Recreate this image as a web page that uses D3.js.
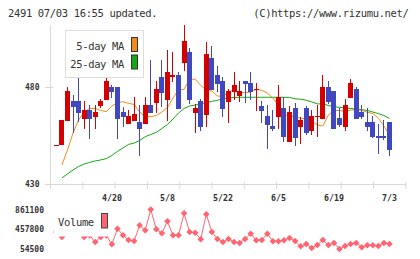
<!DOCTYPE html>
<html>
<head>
<meta charset="utf-8">
<script src="https://cdn.jsdelivr.net/npm/d3@7"></script>
<style>
  html, body { margin: 0; padding: 0; background: #fff; }
  svg { display: block; }
  text { font-family: "DejaVu Sans Mono", monospace; fill: #333; }
</style>
</head>
<body>
<div id="root"></div>
<script>
"use strict";

// daily candles, oldest first
const opens = [450, 450, 462.6, 472.9, 472.9, 463.7, 468.1, 464.7, 470.2, 473.5,
  480, 480, 467.1, 460.8, 462.6, 462, 460.8, 470.7, 471.6, 485.3,
  473.3, 485, 486.2, 492.5, 498, 466.8, 472.8, 465.7, 495, 486.2,
  483.1, 472.4, 477.6, 475.5, 483.1, 482, 478.5, 470.2, 465, 459.9,
  464.7, 469.2, 451.8, 469.2, 459.5, 469.2, 457.5, 464.8, 463.7, 480,
  477.9, 464, 459.5, 474.5, 479, 467.1, 462, 462, 454.9, 454.9, 462];
const highs = [450, 463.1, 480.2, 476, 485.3, 472.9, 470.7, 470.7, 474, 485.3,
  481, 480, 469.5, 468.1, 475, 470.7, 475, 493.9, 483.1, 493.9,
  499.1, 498, 487.9, 512, 500.1, 471.2, 473.8, 503.2, 501.1, 490.8,
  485.2, 479, 487.9, 483.1, 483.1, 487.7, 482, 472.8, 470.7, 468.1,
  481, 474.8, 470.2, 471.8, 464.7, 470.2, 468.1, 470.7, 486.2, 483.1,
  478, 469.2, 473.8, 484.1, 480, 470.7, 469.2, 465, 460.9, 463, 462];
const lows = [450, 450, 462.6, 456.1, 462.1, 458.5, 453, 458.5, 469, 473.5,
  474.5, 453, 459.5, 460.8, 462.6, 444.6, 460.8, 466.8, 466.8, 469.8,
  462.6, 482.7, 468.8, 488.4, 471.2, 456.4, 457.5, 459.5, 478.5, 477.6,
  464.7, 461.6, 473.3, 472.4, 471.6, 473.3, 467.8, 461.6, 447.9, 457.5,
  458.5, 451.8, 451.8, 449.7, 450.8, 455.4, 455.4, 454.4, 463.7, 471,
  458.5, 459.5, 457.5, 474.5, 463.7, 463.7, 457.5, 453.6, 445.6, 452.8, 444.6];
const closes = [450, 463.1, 478.1, 469.8, 466.8, 468.1, 463.7, 467.1, 472.9, 483.1,
  477.6, 463.7, 464.7, 465.1, 466.1, 458.5, 470.7, 466.8, 479, 476.8,
  487.9, 486.2, 468.8, 503.7, 473.3, 469.2, 459.5, 497, 478.5, 481.5,
  468.8, 477.9, 481, 477.9, 481.5, 477.6, 479, 467.8, 460.6, 458.5,
  474.8, 454.4, 467.1, 453.9, 463, 456.4, 465.1, 465, 480, 472.3,
  458.5, 460.6, 470.7, 482.1, 463.7, 464.7, 459.5, 454.4, 453.9, 453.9, 447.7];

const ma5 = [null, 439.8, 447.5, 456.3, 463, 467.1, 469, 468.9, 467.9, 467.3,
  470.2, 471.9, 472.4, 471.6, 471, 467.1, 464.7, 464.7, 465.3, 467.1,
  469.4, 474.3, 478.5, 478.8, 484, 484, 480.8, 478.5, 477.9, 475.4,
  475.1, 477.4, 478.5, 477.1, 477.1, 477.4, 478.8, 478.3, 476.9, 474.3,
  470.5, 465.8, 465.1, 464.5, 464, 463.5, 462.5, 460.4, 459.9, 465.6,
  467.8, 467.9, 467.6, 468.1, 468.3, 467.9, 467, 466.3, 463.9, 459.9, 455.3];
const ma25 = [null, 433.1, 435.2, 437.2, 439, 440.3, 441.1, 441.9, 442.4, 443.1,
  444.7, 446.8, 448.6, 450.4, 451.1, 452.4, 454.4, 455.5, 456.6, 458.6,
  460.7, 463.5, 466.6, 468.9, 470.2, 470.7, 471.2, 472, 472.6, 473.1,
  474.1, 474.3, 474.6, 474.7, 474.7, 474.7, 474.7, 474.7, 474.7, 474.7,
  474.7, 474.7, 474.6, 473.9, 473.7, 473.2, 472.3, 471.3, 471.2, 470.5,
  469.8, 469.5, 469.2, 468.9, 468.7, 468.3, 467.9, 467.1, 466.3, 465.3, 463.8];

const volumes = [400000, 300000, 560000, 420000, 380000, 300000, 330000, 197400, 300000, 330000,
  150500, 469000, 334300, 238300, 217900, 538500, 436400, 861100, 456800, 375100,
  620100, 334300, 334300, 783500, 401600, 387300, 252600, 763100, 401600, 258700,
  197400, 258700, 197400, 177000, 258700, 366900, 232200, 238300, 366900, 211700,
  211700, 232200, 279100, 217900, 109600, 156600, 74900, 136200, 238300, 136200,
  177000, 54500, 115800, 156600, 177000, 89200, 130100, 130100, 115800, 177000, 156600];

const dateTickIndex = [10, 20, 30, 40, 50, 60];
const dateTickLabels = ["4/20", "5/8", "5/22", "6/5", "6/19", "7/3"];
const priceTicks = [430, 480];
const volumeTicks = [54500, 457800, 861100];

const width = 420;
const height = 259;
const color = {
  up: "#d40000",
  down: "#4048c0",
  ma5: "#f08c1a",
  ma25: "#14a814",
  volume: "#ff6470",
  axis: "#d8d8d8",
};

const svg = d3.select("#root")
  .append("svg")
  .attr("width", width)
  .attr("height", height);

const x = d3.scaleLinear().domain([-1.15, 62.85]).range([50, 405.3]);
const y = d3.scaleLinear().domain([430, 512]).range([184, 24.9]);
const yVol = d3.scaleLinear().domain([54500, 861100]).range([249, 209.5]);
const grid = d3.scaleLinear().domain([0, 11]).range([50, 405.3]);

// header
svg.append("text")
  .attr("x", 8).attr("y", 17.3)
  .style("font-size", "10.5px").style("letter-spacing", "-0.35px")
  .text("2491 07/03 16:55 updated.");
svg.append("text")
  .attr("x", 408.5).attr("y", 17.3)
  .attr("text-anchor", "end")
  .style("font-size", "10.5px").style("letter-spacing", "-0.35px")
  .text("(C)https://www.rizumu.net/");

// axes
svg.append("line")
  .attr("x1", 50.5).attr("x2", 50.5).attr("y1", 25).attr("y2", 184)
  .attr("stroke", color.axis);
svg.append("line")
  .attr("x1", 45).attr("x2", 405.8).attr("y1", 184.5).attr("y2", 184.5)
  .attr("stroke", color.axis);

const gridAxis = svg.append("g")
  .attr("transform", "translate(0,182)")
  .call(d3.axisBottom(grid).ticks(11).tickSize(7).tickFormat(""));
gridAxis.select(".domain").remove();
gridAxis.selectAll("line").attr("stroke", color.axis);

const yAxis = svg.append("g")
  .attr("transform", "translate(53,0)")
  .call(d3.axisLeft(y).tickValues(priceTicks).tickSize(8).tickPadding(5.5));
yAxis.select(".domain").remove();
yAxis.selectAll("line").attr("stroke", color.axis);
yAxis.selectAll("text").attr("fill", "#333")
  .style("font-family", "'DejaVu Sans Mono', monospace").style("font-size", "8px").style("font-weight", "bold");

svg.append("g")
  .selectAll("text")
  .data(dateTickIndex)
  .join("text")
  .attr("x", (d) => x(d))
  .attr("y", 201)
  .attr("text-anchor", "middle")
  .style("font-size", "8.3px").style("font-weight", "bold")
  .text((d, i) => dateTickLabels[i]);

// moving averages behind candles
const maLine = d3.line()
  .defined((d) => d != null)
  .x((d, i) => x(i))
  .y((d) => y(d));

svg.append("path")
  .datum(ma25)
  .attr("d", maLine)
  .attr("fill", "none")
  .attr("stroke", color.ma25)
  .attr("stroke-width", 1);
svg.append("path")
  .datum(ma5)
  .attr("d", maLine)
  .attr("fill", "none")
  .attr("stroke", color.ma5)
  .attr("stroke-width", 1);

// candles
const candles = svg.append("g")
  .attr("shape-rendering", "crispEdges")
  .selectAll("g")
  .data(opens.map((o, i) => ({ i, o, h: highs[i], l: lows[i], c: closes[i] })))
  .join("g");

candles.append("line")
  .attr("x1", (d) => Math.floor(x(d.i)) + 0.5)
  .attr("x2", (d) => Math.floor(x(d.i)) + 0.5)
  .attr("y1", (d) => y(d.h))
  .attr("y2", (d) => y(d.l))
  .attr("stroke", (d) => (d.c >= d.o ? color.up : color.down));

candles.append("rect")
  .attr("x", (d) => x(d.i) - 2.5)
  .attr("width", 5)
  .attr("y", (d) => y(Math.max(d.o, d.c)))
  .attr("height", (d) => Math.max(1, y(Math.min(d.o, d.c)) - y(Math.max(d.o, d.c))))
  .attr("fill", (d) => (d.c >= d.o ? color.up : color.down));

// main legend
const legend = svg.append("g");
legend.append("rect")
  .attr("x", 65.5).attr("y", 30.5).attr("width", 78).attr("height", 47)
  .attr("fill", "#fff").attr("stroke", "#ddd");
[["5-day MA", color.ma5, 50], ["25-day MA", color.ma25, 67.5]].forEach(([label, c, ty]) => {
  legend.append("text")
    .attr("x", 124).attr("y", ty)
    .attr("text-anchor", "end")
    .style("font-size", "10.5px").style("letter-spacing", "-0.35px")
    .text(label);
  legend.append("rect")
    .attr("x", 131.5).attr("y", ty - 12.5).attr("width", 6).attr("height", 14)
    .attr("fill", c).attr("stroke", "#333");
});

// volume
const volLine = d3.line()
  .x((d, i) => x(i))
  .y((d) => yVol(d));

svg.append("path")
  .datum(volumes)
  .attr("d", volLine)
  .attr("fill", "none")
  .attr("stroke", color.volume);

svg.append("g")
  .selectAll("path")
  .data(volumes)
  .join("path")
  .attr("transform", (d, i) => `translate(${x(i)},${yVol(d)}) rotate(45)`)
  .attr("d", d3.symbol(d3.symbolSquare, 22))
  .attr("fill", color.volume);

const volAxis = svg.append("g")
  .attr("transform", "translate(44,0)")
  .call(d3.axisLeft(yVol).tickValues(volumeTicks).tickSize(0).tickPadding(0).tickFormat(d3.format("d")));
volAxis.select(".domain").remove();
volAxis.selectAll("text").attr("fill", "#333")
  .style("font-family", "'DejaVu Sans Mono', monospace").style("font-size", "8px").style("font-weight", "bold");

const volLegend = svg.append("g");
volLegend.append("rect")
  .attr("x", 54).attr("y", 206).attr("width", 57).attr("height", 30.5)
  .attr("fill", "#fff");
volLegend.append("text")
  .attr("x", 58).attr("y", 226)
  .style("font-size", "10.5px").style("letter-spacing", "-0.35px")
  .text("Volume");
volLegend.append("rect")
  .attr("x", 101.5).attr("y", 213.5).attr("width", 6).attr("height", 14.5)
  .attr("fill", color.volume).attr("stroke", "#444");
</script>
</body>
</html>
